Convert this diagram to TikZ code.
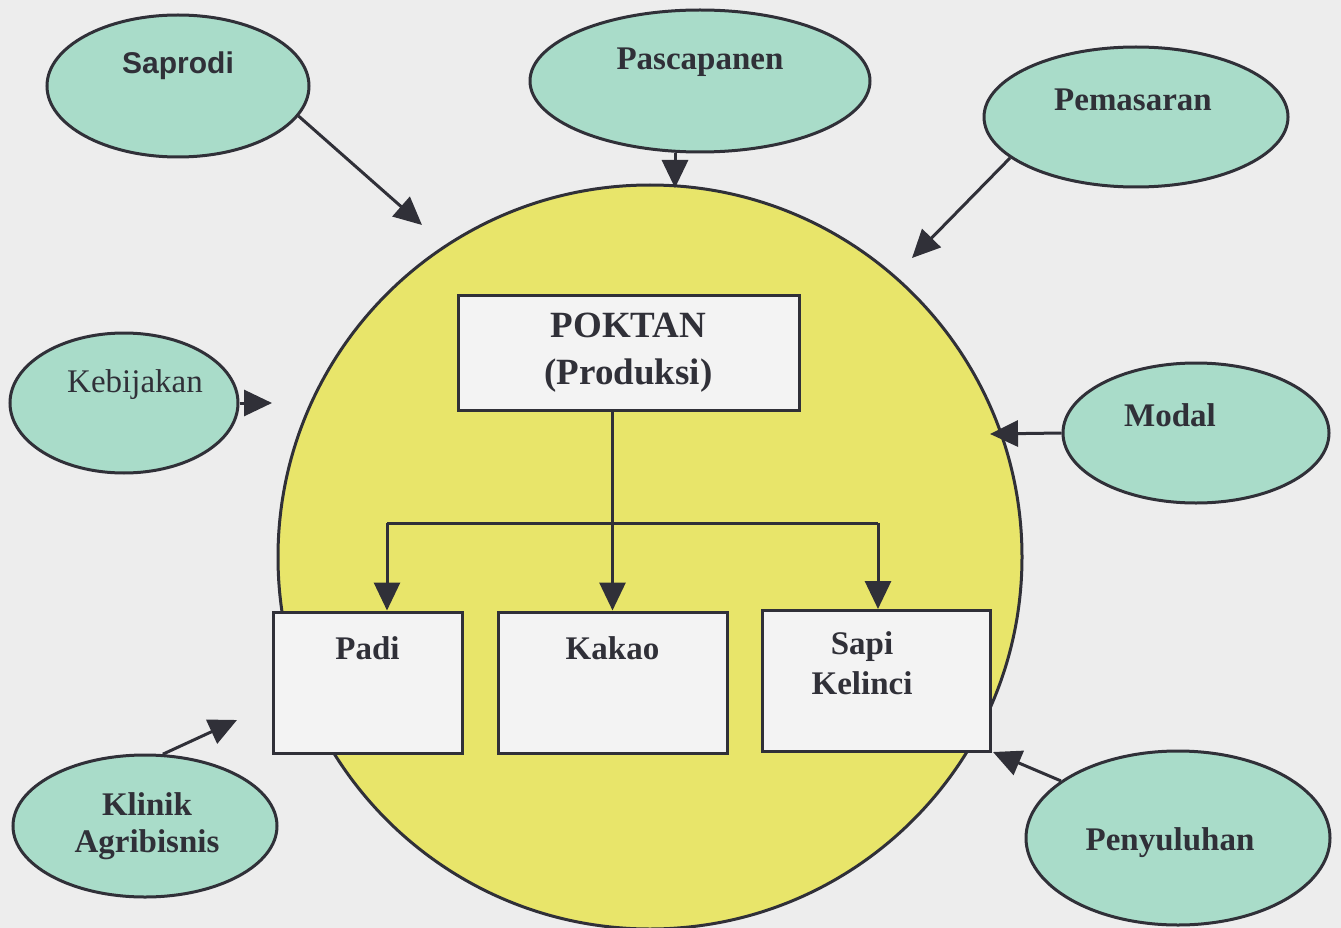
\documentclass[tikz,border=0pt]{standalone}
\usepackage{fontspec}
\setmainfont{Liberation Serif}
\newfontfamily\arialf{Liberation Sans}
\usetikzlibrary{shapes.geometric,arrows.meta}
\definecolor{bgc}{HTML}{EDEDED}
\definecolor{ovalfill}{HTML}{A9DCC9}
\definecolor{yel}{HTML}{E8E56A}
\definecolor{ink}{HTML}{303038}
\definecolor{boxfill}{HTML}{F3F3F3}
\begin{document}
\begin{tikzpicture}[x=1pt,y=-1pt,
  oval/.style={ellipse, draw=ink, line width=3pt, fill=ovalfill, inner sep=0pt},
  boxn/.style={rectangle, draw=ink, line width=3pt, fill=boxfill, inner sep=0pt},
  lab/.style={font=\fontsize{33}{37}\selectfont\bfseries, text=ink, align=center, inner sep=0pt},
  arr/.style={draw=ink, line width=3pt, -{Triangle[length=28pt,width=26pt]}},
  ln/.style={draw=ink, line width=3pt}]

\fill[bgc] (0,0) rectangle (1341,928);
\useasboundingbox (0,0) rectangle (1341,928);

\node[circle, draw=ink, line width=3pt, fill=yel, minimum size=744pt, inner sep=0pt] (core) at (650,557) {};

% outer ovals
\node[oval, minimum width=262pt, minimum height=142pt,
  label={[lab,font=\arialf\fontsize{30}{34}\selectfont\bfseries,yshift=20pt]center:Saprodi}] (sap) at (178,86) {};
\node[oval, minimum width=340pt, minimum height=142pt,
  label={[lab,yshift=19pt]center:Pascapanen}] (pas) at (700,81) {};
\node[oval, minimum width=304pt, minimum height=140pt,
  label={[lab,xshift=-3pt,yshift=17pt]center:Pemasaran}] (pem) at (1136,117) {};
\node[oval, minimum width=228pt, minimum height=140pt,
  label={[lab,font=\fontsize{33}{37}\selectfont,xshift=11pt,yshift=18pt]center:Kebijakan}] (keb) at (124,403) {};
\node[oval, minimum width=266pt, minimum height=140pt,
  label={[lab,xshift=-26pt,yshift=18pt]center:Modal}] (mod) at (1196,433) {};
\node[oval, minimum width=264pt, minimum height=142pt,
  label={[lab,xshift=2pt]center:Klinik\\Agribisnis}] (kli) at (145,826) {};
\node[oval, minimum width=304pt, minimum height=174pt,
  label={[lab,xshift=-8pt,yshift=-5pt]center:Penyuluhan}] (pen) at (1178,838) {};

% boxes
\node[boxn, minimum width=341pt, minimum height=115pt, lab, font=\fontsize{37}{47}\selectfont\bfseries] (pok) at (628.5,352.5) {POKTAN\\(Produksi)};
\node[boxn, minimum width=189pt, minimum height=141pt,
  label={[lab,yshift=34pt]center:Padi}] (padi) at (367.5,682.5) {};
\node[boxn, minimum width=229pt, minimum height=141pt,
  label={[lab,yshift=34pt]center:Kakao}] (kak) at (612.5,682.5) {};
\node[boxn, minimum width=228pt, minimum height=141pt,
  label={[lab,font=\fontsize{33}{40}\selectfont\bfseries,xshift=-14pt,yshift=18pt]center:Sapi\\Kelinci}] (sapi) at (876,681) {};

% free ends
\coordinate (c1) at (422,225);
\coordinate (c2) at (675,188);
\coordinate (c3) at (912,258);
\coordinate (c4) at (272,403);
\coordinate (c5) at (990,434);
\coordinate (c6) at (237,720);
\coordinate (c7) at (993,752);
\coordinate (hl) at (387,523);
\coordinate (hr) at (878,523);

% connectors
\draw[arr] (sap.-14) -- (c1);
\draw[arr] (pas.south -| c2) -- (c2);
\draw[arr] (pem.198) -- (c3);
\draw[arr] (keb.east) -- (c4);
\draw[arr] (mod.west) -- (c5);
\draw[arr] (kli.76) -- (c6);
\draw[arr] (pen.154) -- (c7);
\draw[arr] (kak.north |- pok.south) -- (kak.north);
\draw[ln] (hl) -- (hr);
\draw[arr] (hl) -- (hl |- padi.north);
\draw[arr] (hr) -- (hr |- sapi.north);
\end{tikzpicture}
\end{document}
